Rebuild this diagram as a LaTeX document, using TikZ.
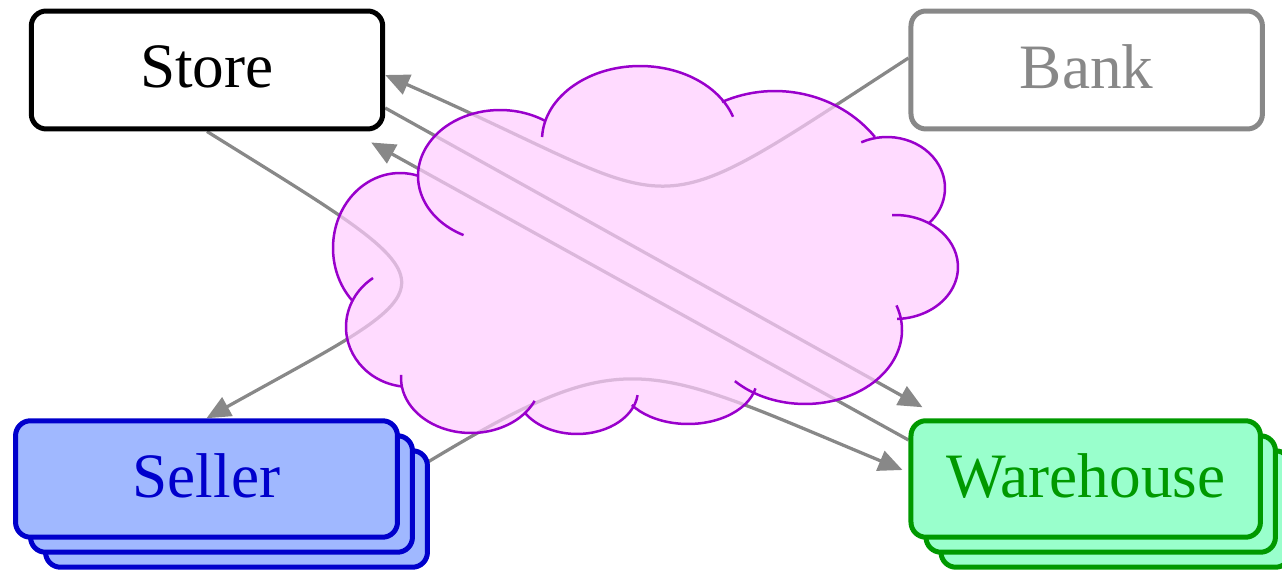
\documentclass[tikz,border=0pt]{standalone}
\usepackage{fontspec}
\setmainfont{Liberation Serif}
\usetikzlibrary{arrows.meta,shadows,calc}
\pgfdeclarelayer{links}
\pgfsetlayers{links,main}

\definecolor{linkgray}{HTML}{888888}
\definecolor{sellerblue}{HTML}{0000CC}
\definecolor{sellerfill}{HTML}{A0B8FF}
\definecolor{whgreen}{HTML}{009900}
\definecolor{whfill}{HTML}{99FFCC}
\definecolor{cloudpurple}{HTML}{9900CC}
\definecolor{cloudpink}{HTML}{FFCCFF}

% one puff of the cloud outline: centre, radii, start and end angle
\newcommand\cloudpuff[6]{%
  \draw[cloudline] (#1,#2) ++(#5:#3 and #4)
    arc[start angle=#5,end angle=#6,x radius=#3,y radius=#4];}

\begin{document}
\begin{tikzpicture}[x=0.02cm,y=0.02cm,
  box/.style={rounded corners=0.3cm, line width=0.1cm, inner sep=0pt,
    text depth=0.14cm, font=\fontsize{36}{40}\selectfont},
  stackof/.style 2 args={
    copy shadow={shadow xshift=0.6cm,shadow yshift=-0.6cm,draw=#1,fill=#2},
    copy shadow={shadow xshift=0.3cm,shadow yshift=-0.3cm,draw=#1,fill=#2}},
  link/.style={draw=linkgray, line width=0.065cm},
  arrowend/.style={-{Triangle[length=0.48cm,width=0.42cm]}},
  cloudline/.style={draw=cloudpurple, line width=0.05cm},
]
\useasboundingbox (0,0) rectangle (1282,-570);

% parties
\node[box, draw=black, text=black, minimum width=7.03cm, minimum height=2.36cm]
  (Store) at (207,-70) {Store};
\node[box, draw=linkgray, text=linkgray, minimum width=7.03cm, minimum height=2.36cm]
  (Bank) at (1086.7,-70) {Bank};
\node[box, draw=sellerblue, fill=sellerfill, text=sellerblue,
  stackof={sellerblue}{sellerfill}, minimum width=7.64cm, minimum height=2.33cm]
  (Seller) at (206.5,-479) {Seller};
\node[box, draw=whgreen, fill=whfill, text=whgreen,
  stackof={whgreen}{whfill}, minimum width=6.99cm, minimum height=2.33cm]
  (Warehouse) at (1085.7,-479) {Warehouse};

% message flows, kept beneath the cloud and the boxes
\begin{pgfonlayer}{links}
\draw[link,arrowend] (Store.south) .. controls +(260,-162) and +(253,141) .. (Seller.north);
\draw[link,arrowend] ($(Bank.west)+(0,12)$) .. controls +(-276,-179) and +(312,-137) .. ($(Store.east)+(0,-5)$);
\draw[link,arrowend] ($(Store.east)+(0,-38)$) -- ($(Warehouse.north west)+(14,11)$);
\draw[link,arrowend] ($(Warehouse.west)+(0,39)$) -- ($(Store.south east)+(-14,-11)$);
\draw[link,arrowend] (Seller.east) .. controls +(227,139) and +(-271,113) .. ($(Warehouse.west)+(-6,9)$);
\end{pgfonlayer}

% the network cloud: translucent body
\fill[cloudpink, fill opacity=0.7]
  (640,-140) ellipse [x radius=1.96cm, y radius=1.48cm]
  (500,-176) ellipse [x radius=1.64cm, y radius=1.32cm]
  (400,-248) ellipse [x radius=1.34cm, y radius=1.50cm]
  (410,-327) ellipse [x radius=1.28cm, y radius=1.20cm]
  (471,-378) ellipse [x radius=1.40cm, y radius=1.10cm]
  (577,-390) ellipse [x radius=1.22cm, y radius=0.88cm]
  (688,-379) ellipse [x radius=1.38cm, y radius=0.90cm]
  (805,-330) ellipse [x radius=1.94cm, y radius=1.48cm]
  (895,-267) ellipse [x radius=1.26cm, y radius=1.04cm]
  (887,-188) ellipse [x radius=1.16cm, y radius=1.02cm]
  (775,-211) ellipse [x radius=2.54cm, y radius=2.40cm]
  (640,-140) -- (500,-176) -- (400,-248) -- (410,-327) -- (471,-378)
  -- (577,-390) -- (688,-379) -- (805,-330) -- (895,-267) -- (887,-188)
  -- (775,-211) -- cycle;

% the cloud outline, puff by puff
\cloudpuff{500}{-176}{1.64cm}{1.32cm}{243.6}{57}
\cloudpuff{640}{-140}{1.96cm}{1.48cm}{177.7}{18.3}
\cloudpuff{775}{-211}{2.54cm}{2.40cm}{114.7}{38.1}
\cloudpuff{887}{-188}{1.16cm}{1.02cm}{116.4}{-44.1}
\cloudpuff{895}{-267}{1.26cm}{1.04cm}{92.7}{-88.1}
\cloudpuff{805}{-330}{1.94cm}{1.48cm}{19.4}{-136.3}
\cloudpuff{688}{-379}{1.38cm}{0.90cm}{-12}{-144.6}
\cloudpuff{577}{-390}{1.22cm}{0.88cm}{-6.7}{-148.5}
\cloudpuff{471}{-378}{1.40cm}{1.10cm}{-24.6}{-183.2}
\cloudpuff{410}{-327}{1.28cm}{1.20cm}{262.6}{125.3}
\cloudpuff{400}{-248}{1.34cm}{1.50cm}{224}{74.5}
\end{tikzpicture}
\end{document}
